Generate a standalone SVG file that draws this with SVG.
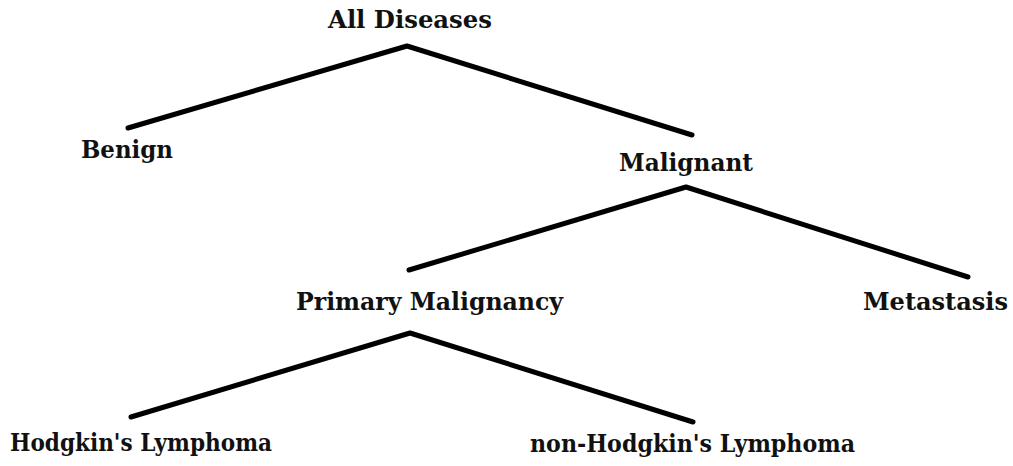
<svg xmlns="http://www.w3.org/2000/svg" width="1013" height="466" viewBox="0 0 1013 466">
  <style>
    .label { font-family: "DejaVu Serif", "Liberation Serif", serif; font-weight: bold; font-size: 24px; fill: #111; }
    .edge { stroke: #000; stroke-width: 5; fill: none; stroke-linecap: round; stroke-linejoin: round; }
  </style>
  <rect width="1013" height="466" fill="#fff"/>

  <!-- tree branches -->
  <g id="connectors">
    <polyline class="edge" points="128,128 407,46 692,135"/>
    <polyline class="edge" points="409,270 686,187 968,277"/>
    <polyline class="edge" points="131,417 410,333 693,422"/>
  </g>

  <g id="node-all"><text class="label" x="328" y="28" textLength="164" lengthAdjust="spacingAndGlyphs">All Diseases</text></g>
  <g id="node-benign"><text class="label" x="81" y="158" textLength="92" lengthAdjust="spacingAndGlyphs">Benign</text></g>
  <g id="node-malignant"><text class="label" x="619" y="171" textLength="134" lengthAdjust="spacingAndGlyphs">Malignant</text></g>
  <g id="node-primary"><text class="label" x="296" y="310" textLength="267" lengthAdjust="spacingAndGlyphs">Primary Malignancy</text></g>
  <g id="node-metastasis"><text class="label" x="863" y="310" textLength="145" lengthAdjust="spacingAndGlyphs">Metastasis</text></g>
  <g id="node-hodgkin"><text class="label" x="10" y="451" textLength="262" lengthAdjust="spacingAndGlyphs">Hodgkin's Lymphoma</text></g>
  <g id="node-nonhodgkin"><text class="label" x="530" y="452" textLength="325" lengthAdjust="spacingAndGlyphs">non-Hodgkin's Lymphoma</text></g>
</svg>
